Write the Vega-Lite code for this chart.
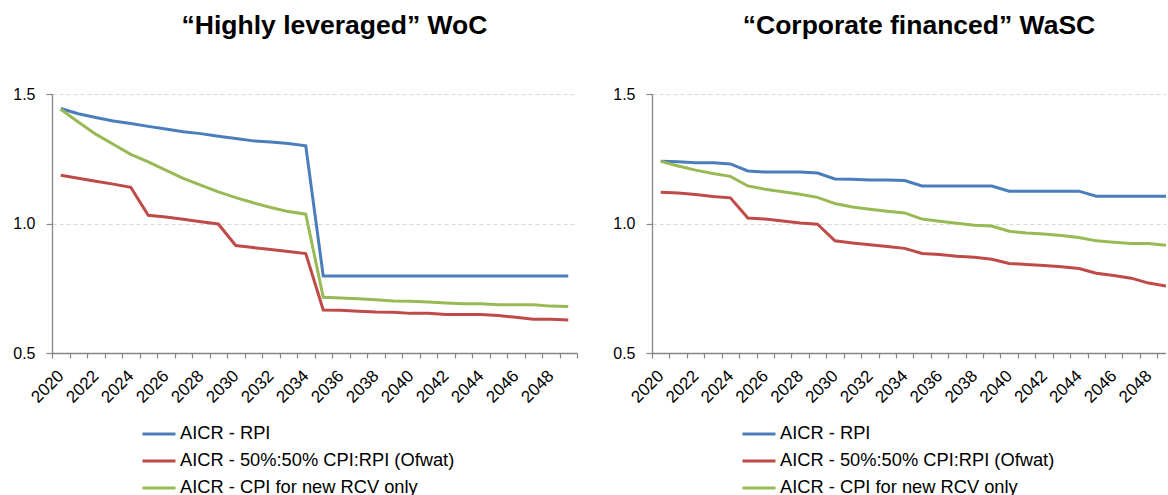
{
  "$schema": "https://vega.github.io/schema/vega-lite/v6.json",
  "background": "white",
  "padding": {"left": 12, "top": 13, "right": 0, "bottom": 0},
  "spacing": 29,
  "datasets": {
    "woc": [
      {"year": 2020, "rpi": 1.444, "ofwat": 1.186, "cpi": 1.441},
      {"year": 2021, "rpi": 1.424, "ofwat": 1.175, "cpi": 1.392},
      {"year": 2022, "rpi": 1.409, "ofwat": 1.163, "cpi": 1.345},
      {"year": 2023, "rpi": 1.396, "ofwat": 1.152, "cpi": 1.306},
      {"year": 2024, "rpi": 1.386, "ofwat": 1.140, "cpi": 1.267},
      {"year": 2025, "rpi": 1.375, "ofwat": 1.032, "cpi": 1.238},
      {"year": 2026, "rpi": 1.365, "ofwat": 1.025, "cpi": 1.206},
      {"year": 2027, "rpi": 1.354, "ofwat": 1.016, "cpi": 1.174},
      {"year": 2028, "rpi": 1.347, "ofwat": 1.007, "cpi": 1.148},
      {"year": 2029, "rpi": 1.337, "ofwat": 0.998, "cpi": 1.122},
      {"year": 2030, "rpi": 1.328, "ofwat": 0.915, "cpi": 1.100},
      {"year": 2031, "rpi": 1.319, "ofwat": 0.907, "cpi": 1.080},
      {"year": 2032, "rpi": 1.315, "ofwat": 0.900, "cpi": 1.062},
      {"year": 2033, "rpi": 1.309, "ofwat": 0.892, "cpi": 1.046},
      {"year": 2034, "rpi": 1.300, "ofwat": 0.884, "cpi": 1.036},
      {"year": 2035, "rpi": 0.797, "ofwat": 0.666, "cpi": 0.715},
      {"year": 2036, "rpi": 0.797, "ofwat": 0.665, "cpi": 0.712},
      {"year": 2037, "rpi": 0.797, "ofwat": 0.661, "cpi": 0.709},
      {"year": 2038, "rpi": 0.797, "ofwat": 0.658, "cpi": 0.706},
      {"year": 2039, "rpi": 0.797, "ofwat": 0.657, "cpi": 0.701},
      {"year": 2040, "rpi": 0.797, "ofwat": 0.653, "cpi": 0.700},
      {"year": 2041, "rpi": 0.797, "ofwat": 0.653, "cpi": 0.697},
      {"year": 2042, "rpi": 0.797, "ofwat": 0.649, "cpi": 0.693},
      {"year": 2043, "rpi": 0.797, "ofwat": 0.649, "cpi": 0.690},
      {"year": 2044, "rpi": 0.797, "ofwat": 0.649, "cpi": 0.690},
      {"year": 2045, "rpi": 0.797, "ofwat": 0.645, "cpi": 0.686},
      {"year": 2046, "rpi": 0.797, "ofwat": 0.638, "cpi": 0.686},
      {"year": 2047, "rpi": 0.797, "ofwat": 0.630, "cpi": 0.686},
      {"year": 2048, "rpi": 0.797, "ofwat": 0.630, "cpi": 0.681},
      {"year": 2049, "rpi": 0.797, "ofwat": 0.627, "cpi": 0.680}
    ],
    "wasc": [
      {"year": 2020, "rpi": 1.240, "ofwat": 1.121, "cpi": 1.240},
      {"year": 2021, "rpi": 1.238, "ofwat": 1.118, "cpi": 1.222},
      {"year": 2022, "rpi": 1.235, "ofwat": 1.112, "cpi": 1.206},
      {"year": 2023, "rpi": 1.235, "ofwat": 1.104, "cpi": 1.193},
      {"year": 2024, "rpi": 1.230, "ofwat": 1.099, "cpi": 1.182},
      {"year": 2025, "rpi": 1.203, "ofwat": 1.021, "cpi": 1.145},
      {"year": 2026, "rpi": 1.199, "ofwat": 1.017, "cpi": 1.132},
      {"year": 2027, "rpi": 1.199, "ofwat": 1.010, "cpi": 1.123},
      {"year": 2028, "rpi": 1.199, "ofwat": 1.002, "cpi": 1.113},
      {"year": 2029, "rpi": 1.195, "ofwat": 0.997, "cpi": 1.101},
      {"year": 2030, "rpi": 1.172, "ofwat": 0.933, "cpi": 1.077},
      {"year": 2031, "rpi": 1.171, "ofwat": 0.925, "cpi": 1.064},
      {"year": 2032, "rpi": 1.168, "ofwat": 0.918, "cpi": 1.055},
      {"year": 2033, "rpi": 1.168, "ofwat": 0.911, "cpi": 1.047},
      {"year": 2034, "rpi": 1.166, "ofwat": 0.904, "cpi": 1.041},
      {"year": 2035, "rpi": 1.145, "ofwat": 0.884, "cpi": 1.017},
      {"year": 2036, "rpi": 1.145, "ofwat": 0.880, "cpi": 1.009},
      {"year": 2037, "rpi": 1.145, "ofwat": 0.874, "cpi": 1.001},
      {"year": 2038, "rpi": 1.145, "ofwat": 0.870, "cpi": 0.993},
      {"year": 2039, "rpi": 1.145, "ofwat": 0.862, "cpi": 0.990},
      {"year": 2040, "rpi": 1.125, "ofwat": 0.846, "cpi": 0.970},
      {"year": 2041, "rpi": 1.125, "ofwat": 0.842, "cpi": 0.963},
      {"year": 2042, "rpi": 1.125, "ofwat": 0.838, "cpi": 0.959},
      {"year": 2043, "rpi": 1.125, "ofwat": 0.833, "cpi": 0.954},
      {"year": 2044, "rpi": 1.125, "ofwat": 0.826, "cpi": 0.946},
      {"year": 2045, "rpi": 1.105, "ofwat": 0.808, "cpi": 0.933},
      {"year": 2046, "rpi": 1.105, "ofwat": 0.799, "cpi": 0.928},
      {"year": 2047, "rpi": 1.105, "ofwat": 0.789, "cpi": 0.923},
      {"year": 2048, "rpi": 1.105, "ofwat": 0.770, "cpi": 0.923},
      {"year": 2049, "rpi": 1.105, "ofwat": 0.759, "cpi": 0.916}
    ]
  },
  "config": {
    "view": {"stroke": null},
    "font": "Liberation Sans",
    "axis": {
      "domainColor": "#868686",
      "domainWidth": 1.3,
      "tickColor": "#868686",
      "tickWidth": 1.2,
      "labelColor": "#000000",
      "labelFont": "Liberation Sans",
      "labelFontSize": 16,
      "title": null
    },
    "legend": {
      "orient": "none",
      "legendX": 89,
      "legendY": 322,
      "direction": "vertical",
      "title": null,
      "padding": 0,
      "symbolType": "stroke",
      "symbolSize": 1089,
      "symbolStrokeWidth": 3,
      "labelFont": "Liberation Sans",
      "labelFontSize": 18.3,
      "labelColor": "#000000",
      "labelOffset": 3,
      "labelLimit": 500,
      "rowPadding": -2.5
    },
    "title": {
      "font": "Liberation Sans",
      "fontSize": 26.5,
      "fontWeight": "bold",
      "color": "#000000",
      "anchor": "middle",
      "frame": "group",
      "baseline": "alphabetic"
    }
  },
  "resolve": {"legend": {"color": "independent"}},
  "hconcat": [
    {
      "width": 525,
      "height": 259,
      "title": {"text": "“Highly leveraged” WoC", "dx": 20, "offset": 46.5},
      "data": {"name": "woc"},
      "transform": [{"fold": ["rpi", "ofwat", "cpi"], "as": ["series", "value"]}],
      "mark": {"type": "line", "strokeWidth": 3, "clip": true},
      "encoding": {
        "x": {
          "field": "year",
          "type": "quantitative",
          "scale": {"domain": [2019.5, 2049.5], "nice": false, "zero": false},
          "axis": {
            "values": [2019.5, 2020, 2020.5, 2021.5, 2022, 2022.5, 2023.5, 2024, 2024.5, 2025.5, 2026, 2026.5, 2027.5, 2028, 2028.5, 2029.5, 2030, 2030.5, 2031.5, 2032, 2032.5, 2033.5, 2034, 2034.5, 2035.5, 2036, 2036.5, 2037.5, 2038, 2038.5, 2039.5, 2040, 2040.5, 2041.5, 2042, 2042.5, 2043.5, 2044, 2044.5, 2045.5, 2046, 2046.5, 2047.5, 2048, 2048.5, 2049.5],
            "labelExpr": "datum.value % 1 === 0 ? '' + datum.value : ''",
            "tickOpacity": {"condition": {"test": "datum.value % 1 === 0", "value": 0}, "value": 1},
            "tickSize": 5,
            "labelAngle": -45,
            "labelAlign": "right",
            "labelBaseline": "middle",
            "labelPadding": 15,
            "labelFontSize": 17,
            "labelOverlap": false,
            "labelBound": false,
            "labelFlush": false,
            "grid": false
          }
        },
        "y": {
          "field": "value",
          "type": "quantitative",
          "scale": {"domain": [0.5, 1.5], "nice": false, "zero": false},
          "axis": {
            "values": [0.5, 1.0, 1.5],
            "format": ".1f",
            "tickSize": 6,
            "labelPadding": 11,
            "grid": true,
            "gridColor": "#d9d9d9",
            "gridDash": [4, 3],
            "gridOpacity": {"condition": {"test": "datum.value === 0.5", "value": 0}, "value": 1}
          }
        },
        "color": {
          "field": "series",
          "type": "nominal",
          "scale": {"domain": ["rpi", "ofwat", "cpi"], "range": ["#4A7EBB", "#BE4B48", "#98B954"]},
          "legend": {
            "labelExpr": "datum.value === 'rpi' ? 'AICR - RPI' : datum.value === 'ofwat' ? 'AICR - 50%:50% CPI:RPI (Ofwat)' : 'AICR - CPI for new RCV only'"
          }
        }
      }
    },
    {
      "width": 514,
      "height": 259,
      "title": {"text": "“Corporate financed” WaSC", "dx": 10, "offset": 46.5},
      "data": {"name": "wasc"},
      "transform": [{"fold": ["rpi", "ofwat", "cpi"], "as": ["series", "value"]}],
      "mark": {"type": "line", "strokeWidth": 3, "clip": true},
      "encoding": {
        "x": {
          "field": "year",
          "type": "quantitative",
          "scale": {"domain": [2019.5, 2049.0], "nice": false, "zero": false},
          "axis": {
            "values": [2019.5, 2020, 2020.5, 2021.5, 2022, 2022.5, 2023.5, 2024, 2024.5, 2025.5, 2026, 2026.5, 2027.5, 2028, 2028.5, 2029.5, 2030, 2030.5, 2031.5, 2032, 2032.5, 2033.5, 2034, 2034.5, 2035.5, 2036, 2036.5, 2037.5, 2038, 2038.5, 2039.5, 2040, 2040.5, 2041.5, 2042, 2042.5, 2043.5, 2044, 2044.5, 2045.5, 2046, 2046.5, 2047.5, 2048, 2048.5],
            "labelExpr": "datum.value % 1 === 0 ? '' + datum.value : ''",
            "tickOpacity": {"condition": {"test": "datum.value % 1 === 0", "value": 0}, "value": 1},
            "tickSize": 5,
            "labelAngle": -45,
            "labelAlign": "right",
            "labelBaseline": "middle",
            "labelPadding": 15,
            "labelFontSize": 17,
            "labelOverlap": false,
            "labelBound": false,
            "labelFlush": false,
            "grid": false
          }
        },
        "y": {
          "field": "value",
          "type": "quantitative",
          "scale": {"domain": [0.5, 1.5], "nice": false, "zero": false},
          "axis": {
            "values": [0.5, 1.0, 1.5],
            "format": ".1f",
            "tickSize": 6,
            "labelPadding": 11,
            "grid": true,
            "gridColor": "#d9d9d9",
            "gridDash": [4, 3],
            "gridOpacity": {"condition": {"test": "datum.value === 0.5", "value": 0}, "value": 1}
          }
        },
        "color": {
          "field": "series",
          "type": "nominal",
          "scale": {"domain": ["rpi", "ofwat", "cpi"], "range": ["#4A7EBB", "#BE4B48", "#98B954"]},
          "legend": {
            "labelExpr": "datum.value === 'rpi' ? 'AICR - RPI' : datum.value === 'ofwat' ? 'AICR - 50%:50% CPI:RPI (Ofwat)' : 'AICR - CPI for new RCV only'"
          }
        }
      }
    }
  ]
}
